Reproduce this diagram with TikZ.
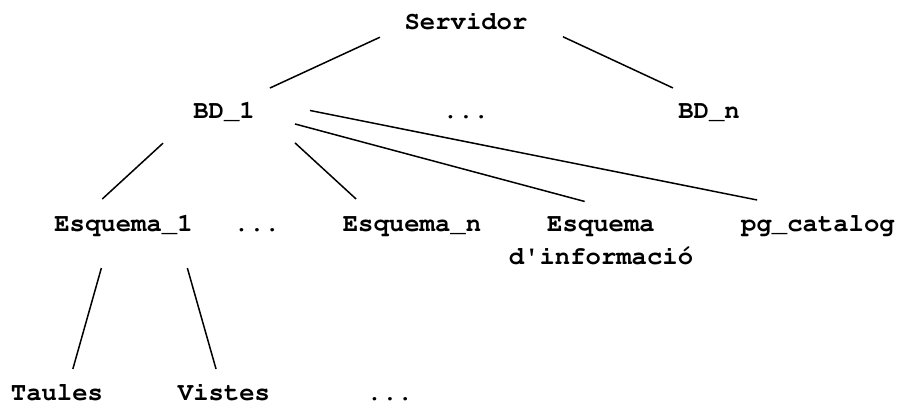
\documentclass[tikz,border=0pt]{standalone}
\usepackage[T1]{fontenc}
\usepackage{textcomp}
\usetikzlibrary{positioning}

\begin{document}
\begin{tikzpicture}[x=1pt, y=-1pt,
    txt/.style={font=\fontfamily{pcr}\fontsize{25.6}{33}\selectfont\bfseries, inner sep=3pt, outer sep=0pt, anchor=base},
    lbl/.style={txt, text height=16pt, text depth=6pt},
    lnk/.style={line width=1.5pt}]
    \useasboundingbox (0,0) rectangle (898,403);
    %% arrel
    \node[lbl] (srv) at (466,30) {Servidor};
    %% bases de dades
    \node[lbl, below left =89pt and 242pt of srv.base, anchor=base] (bd1) {BD\_1};
    \node[lbl, below =89pt of srv.base, anchor=base] (d1) {...};
    \node[lbl, below right =89pt and 243pt of srv.base, anchor=base] (bdn) {BD\_n};
    %% esquemes
    \node[lbl, below left =113pt and 100.5pt of bd1.base, anchor=base] (esq1) {Esquema\_1};
    \node[lbl, below right =113pt and 33pt of bd1.base, anchor=base] (d2) {...};
    \node[lbl, below right =113pt and 188pt of bd1.base, anchor=base] (esqn) {Esquema\_n};
    \node[txt, align=center, below right =146pt and 377pt of bd1.base, anchor=base] (info) {Esquema\\d\textquotesingle informaci\'o};
    \node[lbl, below right =113pt and 594pt of bd1.base, anchor=base] (pg) {pg\_catalog};
    %% objectes
    \node[lbl, below left =169pt and 66.5pt of esq1.base, anchor=base] (tau) {Taules};
    \node[lbl, below right =169pt and 100.5pt of esq1.base, anchor=base] (vis) {Vistes};
    \node[lbl, below right =169pt and 266.5pt of esq1.base, anchor=base] (d3) {...};
    % enllacos
    \draw[lnk, shorten <=23.8pt, shorten >=28.5pt] (srv.182) -- (bd1.35);
    \draw[lnk, shorten <=35.9pt, shorten >=28.5pt] (srv.3) -- (bdn.126);
    \draw[lnk, shorten <=37pt, shorten >=20.7pt] (bd1.187) -- (esq1.159);
    \draw[lnk, shorten <=50.6pt, shorten >=20.7pt] (bd1.9) -- (esqn.161);
    \draw[lnk, shorten <=38.5pt, shorten >=51.3pt] (bd1.0) -- (info.39);
    \draw[lnk, shorten <=53.3pt, shorten >=66.2pt] (bd1.north east) -- (pg.74);
    \draw[lnk, shorten <=28.1pt, shorten >=13.5pt] (esq1.224) -- (tau.49);
    \draw[lnk, shorten <=28.1pt, shorten >=13.5pt] (esq1.346) -- (vis.107);
\end{tikzpicture}
\end{document}
